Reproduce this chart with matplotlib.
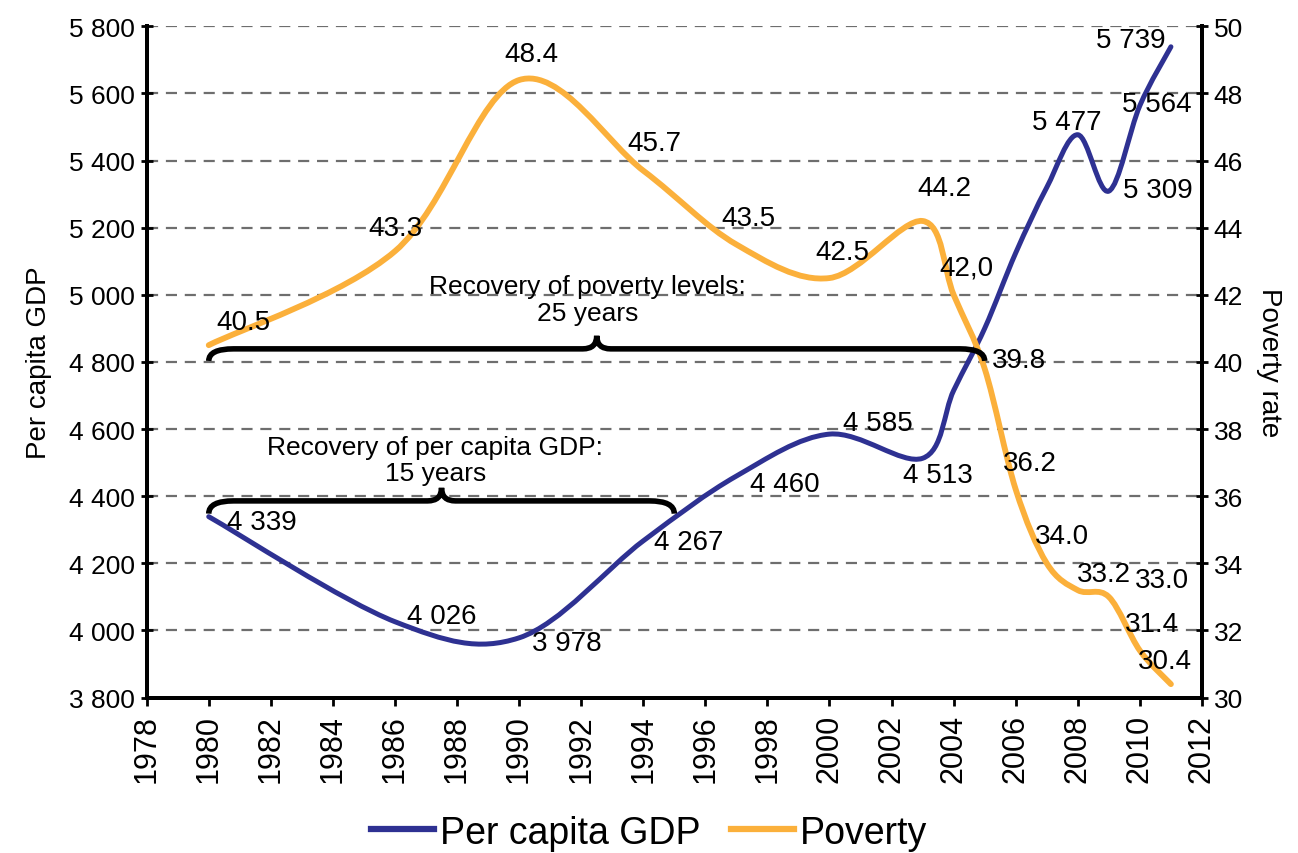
import numpy as np
import matplotlib
matplotlib.use("Agg")
import matplotlib.pyplot as plt
from matplotlib.path import Path
from matplotlib.patches import PathPatch
from matplotlib.lines import Line2D
from matplotlib.ticker import FuncFormatter, MultipleLocator

plt.rcParams['font.family'] = ['Liberation Sans', 'DejaVu Sans']

# per capita GDP (left axis)
gdp_years = [1980, 1986, 1990, 1994, 1997, 2000, 2003, 2004, 2005, 2006, 2007, 2008, 2009, 2010, 2011]
gdp_values = [4339, 4026, 3978, 4267, 4460, 4585, 4513, 4715, 4900, 5125, 5320, 5477, 5309, 5564, 5739]
gdp_labeled = [1980, 1986, 1990, 1994, 1997, 2000, 2003, 2008, 2009, 2010, 2011]

# poverty rate (right axis)
pov_years = [1980, 1986, 1990, 1994, 1997, 2000, 2003, 2004, 2005, 2006, 2007, 2008, 2009, 2010, 2011]
pov_values = [40.5, 43.3, 48.4, 45.7, 43.5, 42.5, 44.2, 42.0, 39.8, 36.2, 34.0, 33.2, 33.0, 31.4, 30.4]
pov_texts = ["40.5", "43.3", "48.4", "45.7", "43.5", "42.5", "44.2", "42,0", "39.8",
             "36.2", "34.0", "33.2", "33.0", "31.4", "30.4"]

gdp_recovery = (1980, 1995)
pov_recovery = (1980, 2005)

BLUE = "#2E3192"
ORANGE = "#FBB03B"


def smooth_path(xs, ys):
    # excel-like smoothed line: bezier with catmull-rom control points
    pts = np.column_stack([xs, ys]).astype(float)
    n = len(pts)
    verts = [pts[0]]
    codes = [Path.MOVETO]
    for i in range(n - 1):
        p0 = pts[max(i - 1, 0)]
        p1 = pts[i]
        p2 = pts[i + 1]
        p3 = pts[min(i + 2, n - 1)]
        verts += [p1 + (p2 - p0) / 6, p2 - (p3 - p1) / 6, p2]
        codes += [Path.CURVE4] * 3
    return Path(verts, codes)


def brace_path(x0, x1, yb, ye, yt, d=0.8, dt=0.45):
    xm = (x0 + x1) / 2
    verts = [(x0, ye), (x0, yb), (x0 + d, yb), (xm - dt, yb), (xm, yb), (xm, yt),
             (xm, yb), (xm + dt, yb), (x1 - d, yb), (x1, yb), (x1, ye)]
    codes = [Path.MOVETO, Path.CURVE3, Path.CURVE3, Path.LINETO, Path.CURVE3, Path.CURVE3,
             Path.CURVE3, Path.CURVE3, Path.LINETO, Path.CURVE3, Path.CURVE3]
    return Path(verts, codes)


fig = plt.figure(figsize=(12.98, 8.54), dpi=100)
ax = fig.add_axes([0.113, 0.182, 0.813, 0.786])
ax2 = ax.twinx()

ax.set_xlim(1978, 2012)
ax.set_ylim(3800, 5800)
ax2.set_ylim(30, 50)
ax.xaxis.set_major_locator(MultipleLocator(2))
ax.yaxis.set_major_locator(MultipleLocator(200))
ax2.yaxis.set_major_locator(MultipleLocator(2))
ax.yaxis.set_major_formatter(FuncFormatter(lambda v, p: f"{int(v):,}".replace(",", " ")))
ax.tick_params(axis='x', labelrotation=90, labelsize=22, width=2, length=6, pad=6)
ax.tick_params(axis='y', labelsize=19, direction='inout', width=2, length=9, pad=4)
ax2.tick_params(axis='y', labelsize=19, direction='inout', width=2, length=9, pad=4)

for a in (ax, ax2):
    a.spines['top'].set_visible(False)
    for s in ('left', 'right', 'bottom'):
        a.spines[s].set_linewidth(2.8)

ax.yaxis.grid(True, linestyle=(0, (5, 3.5)), color='#6e6e6e', lw=1.6)
ax.set_axisbelow(True)

ax.set_ylabel("Per capita GDP", fontsize=20, labelpad=12)
ax2.set_ylabel("Poverty rate", fontsize=20, rotation=270, labelpad=28)

ax.add_patch(PathPatch(smooth_path(gdp_years, gdp_values), fill=False, ec=BLUE, lw=3.6,
                       capstyle='round', joinstyle='round'))
ax2.add_patch(PathPatch(smooth_path(pov_years, pov_values), fill=False, ec=ORANGE, lw=4.2,
                        capstyle='round', joinstyle='round'))

# braces
ax2.add_patch(PathPatch(brace_path(pov_recovery[0], pov_recovery[1], 4839, 4803, 4878),
                        fill=False, ec='black', lw=4, transform=ax.transData))
ax2.add_patch(PathPatch(brace_path(gdp_recovery[0], gdp_recovery[1], 4386, 4348, 4425),
                        fill=False, ec='black', lw=4, transform=ax.transData))
ax2.text(1992.2, 4985, "Recovery of poverty levels:\n25 years", fontsize=19, ha='center',
         va='center', linespacing=1.15, transform=ax.transData)
ax2.text(1987.3, 4508, "Recovery of per capita GDP:\n15 years", fontsize=19, ha='center',
         va='center', linespacing=1.1, transform=ax.transData)

# data labels, offsets in points
gdp_off = {1980: (38, -4), 1986: (34, 4), 1990: (34, -4), 1994: (33, -1), 1997: (35, -6),
           2000: (35, 8), 2003: (11, -12), 2008: (-8, 9), 2009: (35, 1), 2010: (12, 1),
           2011: (-29, 5)}
for yr, v in zip(gdp_years, gdp_values):
    if yr in gdp_labeled:
        ax2.annotate(f"{v:,}".replace(",", " "), (yr, v), xycoords=ax.transData,
                     xytext=gdp_off[yr], textcoords='offset points', ha='center', va='center',
                     fontsize=20)

pov_off = [(25, 17), (0, 17), (9, 19), (8, 20), (9, 19), (9, 19), (16, 24), (9, 20), (25, 6),
           (10, 19), (11, 20), (19, 12), (38, 12), (9, 19), (-4, 17)]
for yr, v, t, o in zip(pov_years, pov_values, pov_texts, pov_off):
    ax2.annotate(t, (yr, v), xytext=o, textcoords='offset points', ha='center', va='center',
                 fontsize=20)

handles = [Line2D([], [], color=BLUE, lw=4.5), Line2D([], [], color=ORANGE, lw=4.5)]
fig.legend(handles, ["Per capita GDP", "Poverty"], loc='center', bbox_to_anchor=(0.5, 0.024),
           ncol=2, frameon=False, fontsize=27, handlelength=1.7, handletextpad=0.15,
           columnspacing=0.8)

fig.savefig("out.png", dpi=100)
